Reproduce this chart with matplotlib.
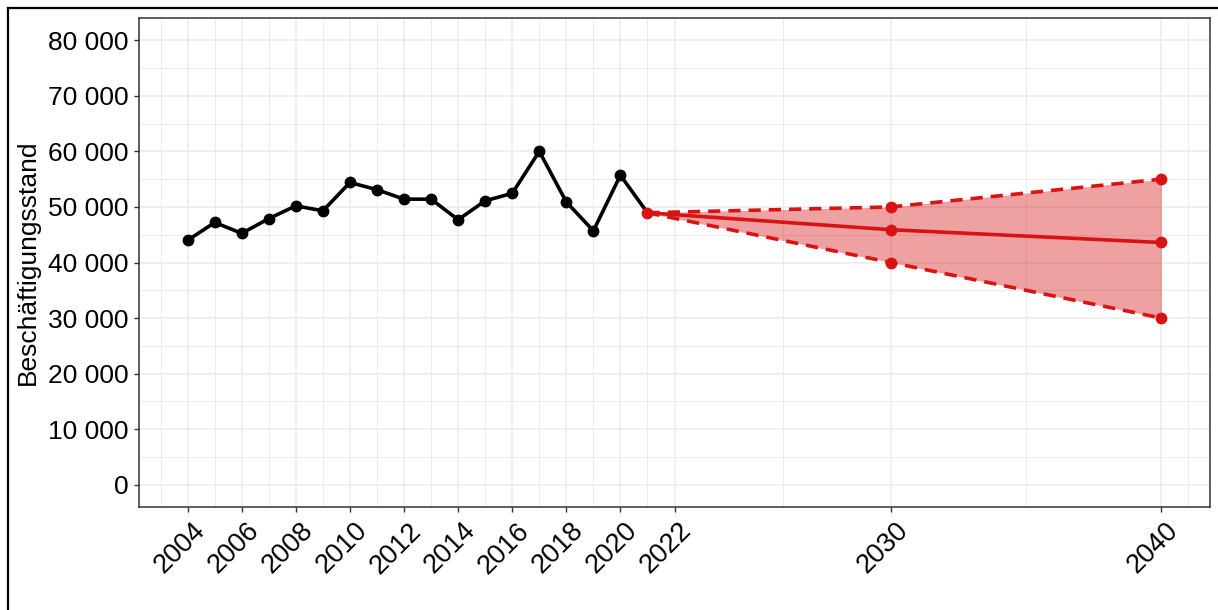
import matplotlib
matplotlib.use("Agg")
import matplotlib.pyplot as plt
import matplotlib.transforms as mtransforms
from matplotlib.ticker import FuncFormatter, MultipleLocator, FixedLocator

plt.rcParams['font.family'] = ['Liberation Sans', 'DejaVu Sans']

# Historical data
years_hist = [2004, 2005, 2006, 2007, 2008, 2009, 2010, 2011, 2012, 2013,
              2014, 2015, 2016, 2017, 2018, 2019, 2020, 2021]
values_hist = [44000, 47200, 45250, 47900, 50200, 49300, 54400, 53100, 51400, 51400,
               47700, 51100, 52450, 60000, 50900, 45700, 55700, 48950]

# Forecast
years_fc = [2021, 2030, 2040]
fc_mid = [48950, 45900, 43600]
fc_upper = [48950, 50000, 55000]
fc_lower = [48950, 40000, 30000]

x_ticks = [2004, 2006, 2008, 2010, 2012, 2014, 2016, 2018, 2020, 2022, 2030, 2040]
x_minor = [2003, 2005, 2007, 2009, 2011, 2013, 2015, 2017, 2019, 2021, 2026, 2035, 2041]
y_ticks = [0, 10000, 20000, 30000, 40000, 50000, 60000, 70000, 80000]

RED = '#D81313'
W, H, DPI = 1218, 610, 100
fig = plt.figure(figsize=(W / DPI, H / DPI), dpi=DPI)
fig.patch.set_facecolor('white')

L, R, T, B = 139, 1210, 18, 507
ax = fig.add_axes([L / W, 1 - B / H, (R - L) / W, (B - T) / H])

ax.set_xlim(2002.2, 2041.8)
ax.set_ylim(-4000, 84000)

# grid
ax.xaxis.set_major_locator(FixedLocator(x_ticks))
ax.xaxis.set_minor_locator(FixedLocator(x_minor))
ax.yaxis.set_major_locator(FixedLocator(y_ticks))
ax.yaxis.set_minor_locator(MultipleLocator(5000))
ax.grid(which='major', color='#EBEBEB', linewidth=1.1, zorder=0)
ax.grid(which='minor', color='#EBEBEB', linewidth=0.7, zorder=0)
ax.set_axisbelow(True)

LW, MS = 2.6, 7.5
# forecast band
ax.fill_between(years_fc, fc_lower, fc_upper, color=RED, alpha=0.4, linewidth=0, zorder=2)
ax.plot(years_fc, fc_upper, color=RED, lw=LW, dashes=(3.4, 2.2), zorder=3)
ax.plot(years_fc, fc_lower, color=RED, lw=LW, dashes=(3.4, 2.2), zorder=3)
ax.plot(years_fc, fc_mid, color=RED, lw=LW, zorder=3)
ax.plot(years_fc[1:], fc_upper[1:], 'o', color=RED, ms=MS, zorder=4)
ax.plot(years_fc[1:], fc_lower[1:], 'o', color=RED, ms=MS, zorder=4)
ax.plot(years_fc[1:], fc_mid[1:], 'o', color=RED, ms=MS, zorder=4)

# history
ax.plot(years_hist, values_hist, color='black', lw=LW, zorder=5)
ax.plot(years_hist[:-1], values_hist[:-1], 'o', color='black', ms=MS, zorder=6)
ax.plot([years_hist[-1]], [values_hist[-1]], 'o', color=RED, ms=MS, zorder=6)

# formatting
ax.yaxis.set_major_formatter(FuncFormatter(lambda v, p: f"{int(v):,}".replace(",", " ")))
for s in ax.spines.values():
    s.set_color('#333333')
    s.set_linewidth(1.1)
ax.tick_params(which='major', length=3.5, width=1.0, color='#333333', labelsize=19,
               labelcolor='black')
ax.tick_params(axis='y', pad=4)
ax.tick_params(which='minor', length=0)
ax.tick_params(axis='x', pad=2, labelsize=19.5)

offset = mtransforms.ScaledTranslation(4 / DPI, -3 / DPI, fig.dpi_scale_trans)
for lbl in ax.get_xticklabels():
    lbl.set_rotation(45)
    lbl.set_ha('right')
    lbl.set_va('top')
    lbl.set_rotation_mode('anchor')
    lbl.set_transform(lbl.get_transform() + offset)

ax.set_ylabel('Beschäftigungsstand', fontsize=19, color='black')
ax.yaxis.set_label_coords((28 - L) / (R - L), 0.5)
ax.yaxis.label.set_va('center')

# outer frame (top and left lines)
fig.add_artist(plt.Line2D([8 / W, 1.0], [1 - 8 / H, 1 - 8 / H], color='black', lw=1.6,
                          transform=fig.transFigure))
fig.add_artist(plt.Line2D([8 / W, 8 / W], [1 - 8 / H, 0.0], color='black', lw=1.6,
                          transform=fig.transFigure))

fig.savefig('out.png', dpi=DPI)
